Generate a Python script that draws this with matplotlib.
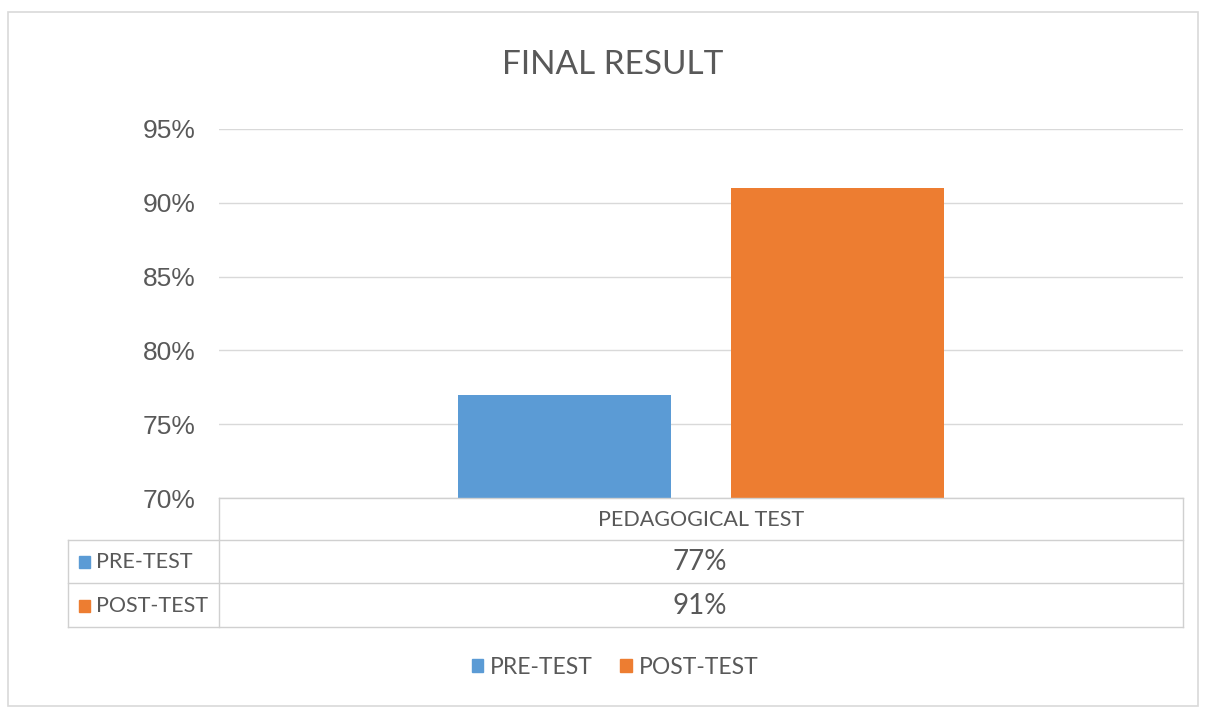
import matplotlib
matplotlib.use('Agg')
import matplotlib.pyplot as plt
import matplotlib.ticker as mticker
from matplotlib.patches import Rectangle, Patch
from matplotlib.lines import Line2D

plt.rcParams.update({
    'font.family': ['Lato', 'DejaVu Sans'],
    'text.color': '#595959',
})

category = 'PEDAGOGICAL TEST'
series = ['PRE-TEST', 'POST-TEST']
values = [0.77, 0.91]
colors = ['#5B9BD5', '#ED7D31']
y_ticks = [0.70, 0.75, 0.80, 0.85, 0.90, 0.95]

W, H = 1207, 711
fig = plt.figure(figsize=(W / 100, H / 100), dpi=100)


def fx(x):
    return x / W


def fy(y):
    return 1 - y / H


def hline(x0, x1, y, color='#d0d0d0', lw=1.0):
    fig.add_artist(Line2D([fx(x0), fx(x1)], [fy(y), fy(y)], color=color, lw=lw))


def vline(x, y0, y1, color='#d0d0d0', lw=1.0):
    fig.add_artist(Line2D([fx(x), fx(x)], [fy(y0), fy(y1)], color=color, lw=lw))


# outer chart frame
fig.add_artist(Rectangle((fx(8), fy(706)), fx(1198) - fx(8), fy(12) - fy(706),
                         fill=False, edgecolor='#d9d9d9', lw=1.2))

ax = fig.add_axes([fx(219), fy(498), fx(1183) - fx(219), fy(129) - fy(498)])
offsets = [-0.142, 0.142]
for off, v, c, s in zip(offsets, values, colors, series):
    ax.bar(off, v - y_ticks[0], bottom=y_ticks[0], width=0.221, color=c, label=s, zorder=3)

ax.set_xlim(-0.5, 0.5)
ax.set_ylim(y_ticks[0], y_ticks[-1])
ax.set_yticks(y_ticks)
ax.yaxis.set_major_formatter(mticker.PercentFormatter(1.0, decimals=0))
ax.tick_params(axis='y', length=0, pad=17, labelsize=19, labelcolor='#595959')
for lab in ax.get_yticklabels():
    lab.set_family(['Liberation Sans', 'DejaVu Sans'])
ax.set_xticks([])
ax.grid(axis='y', color='#d9d9d9', lw=1.0, zorder=0)
for sp in ax.spines.values():
    sp.set_visible(False)
ax.patch.set_alpha(0)

fig.text(fx(613), fy(65), 'FINAL RESULT', ha='center', va='center', fontsize=24, color='#595959')

# data table below the axis
hline(219, 1183, 498)
hline(68, 1183, 540)
hline(68, 1183, 583)
hline(68, 1183, 627)
vline(68, 540, 627)
vline(219, 498, 627)
vline(1183, 498, 627)

fig.text(fx(701), fy(520), category, ha='center', va='center', fontsize=15.5)
row_y = [562, 606]
for ry, s, v, c in zip(row_y, series, values, colors):
    fig.add_artist(Rectangle((fx(79), fy(ry + 6)), fx(11), fy(0) - fy(12), color=c))
    fig.text(fx(96), fy(ry), s, ha='left', va='center', fontsize=15.5)
    fig.text(fx(700), fy(ry), f'{v * 100:.0f}%', ha='center', va='center', fontsize=20)

handles = [Patch(color=c, label=s) for c, s in zip(colors, series)]
fig.legend(handles=handles, loc='center', bbox_to_anchor=(fx(615), fy(667)), ncol=2,
           frameon=False, fontsize=16.5, handlelength=0.5, handleheight=0.5,
           handletextpad=0.3, columnspacing=1.2)

fig.savefig('out.png', dpi=100)
